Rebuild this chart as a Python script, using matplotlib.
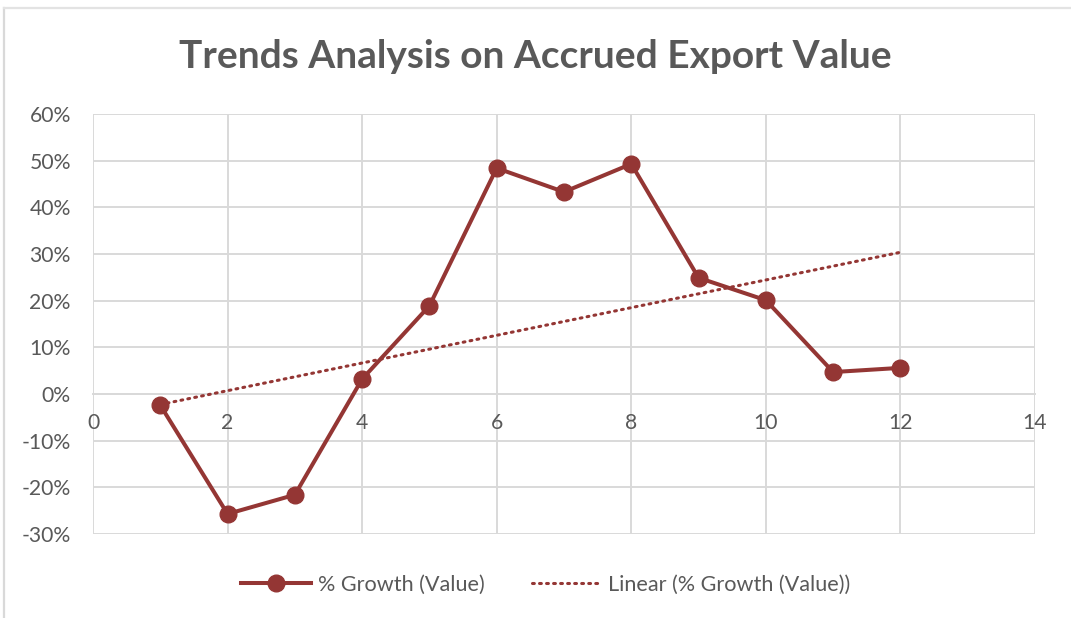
import matplotlib

matplotlib.use("Agg")

import matplotlib.pyplot as plt
import numpy as np
from matplotlib.lines import Line2D
from matplotlib.ticker import FuncFormatter

plt.rcParams["font.family"] = ["Lato", "DejaVu Sans"]

months = [1, 2, 3, 4, 5, 6, 7, 8, 9, 10, 11, 12]
growth = [-2.4, -25.7, -21.6, 3.2, 18.9, 48.4, 43.3, 49.3, 24.9, 20.1, 4.7, 5.6]

x_ticks = [0, 2, 4, 6, 8, 10, 12, 14]
y_ticks = [-30, -20, -10, 0, 10, 20, 30, 40, 50, 60]

line_color = "#943634"
grid_color = "#d9d9d9"
text_color = "#595959"

# linear trendline, as Excel computes it
slope, intercept = np.polyfit(months, growth, 1)
trend_x = np.array([months[0], months[-1]])
trend_y = slope * trend_x + intercept

fig = plt.figure(figsize=(10.71, 6.18), dpi=100)
ax = fig.add_axes([93 / 1071, 1 - 534 / 618, (1035 - 93) / 1071, (534 - 114) / 618])

ax.plot(months, growth, color=line_color, linewidth=2.9, marker="o",
        markersize=12, zorder=4, solid_capstyle="round")
ax.plot(trend_x, trend_y, color=line_color, linewidth=2.2,
        linestyle=(0, (0.6, 1.7)), dash_capstyle="round", zorder=3)

ax.set_xlim(0, 14)
ax.set_ylim(-30, 60)
ax.set_xticks(x_ticks)
ax.set_yticks(y_ticks)
ax.yaxis.set_major_formatter(FuncFormatter(lambda v, _: f"{v:.0f}%"))
ax.grid(True, color=grid_color, linewidth=1.4, zorder=0)
ax.set_axisbelow(True)

for side in ["top", "right", "left"]:
    ax.spines[side].set_visible(False)
ax.spines["bottom"].set_position(("data", 0))
ax.spines["bottom"].set_color(grid_color)
ax.spines["bottom"].set_linewidth(1.4)
ax.tick_params(axis="both", length=0, labelsize=15.2, labelcolor=text_color)
ax.tick_params(axis="x", pad=14)
ax.tick_params(axis="y", pad=16)

fig.text(0.5, 1 - 56 / 618, "Trends Analysis on Accrued Export Value",
         ha="center", va="center", fontsize=28, fontweight="bold", color=text_color)

handles = [
    Line2D([], [], color=line_color, linewidth=2.9, marker="o", markersize=12),
    Line2D([], [], color=line_color, linewidth=2.2, linestyle=(0, (0.6, 1.7)),
           dash_capstyle="round"),
]
fig.legend(handles, ["% Growth (Value)", "Linear (% Growth (Value))"],
           loc="center", bbox_to_anchor=(546 / 1071, 1 - 585 / 618), ncol=2,
           frameon=False, fontsize=15.6, labelcolor=text_color,
           handlelength=3.2, columnspacing=2.2, handletextpad=0.32)

# chart area border (only left and top visible in the crop)
fig.add_artist(Line2D([4 / 1071, 4 / 1071], [0, 1 - 8 / 618], color=grid_color,
                      linewidth=1.6, transform=fig.transFigure))
fig.add_artist(Line2D([4 / 1071, 1], [1 - 8 / 618, 1 - 8 / 618], color="#e3e3e3",
                      linewidth=1.6, transform=fig.transFigure))

fig.savefig("out.png", dpi=100)
plt.close(fig)
